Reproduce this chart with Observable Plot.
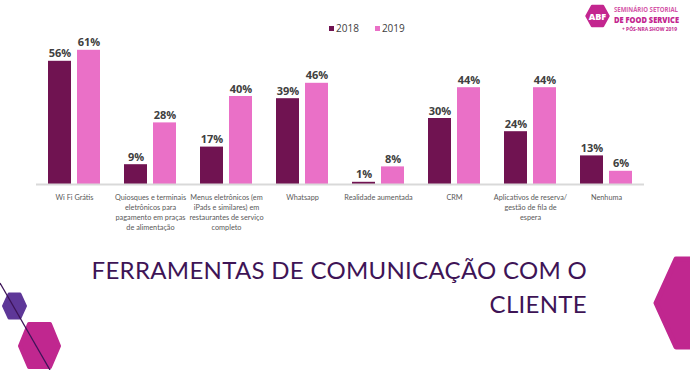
<!DOCTYPE html>
<html>
<head>
<meta charset="utf-8">
<script src="https://cdn.jsdelivr.net/npm/d3@7"></script>
<script src="https://cdn.jsdelivr.net/npm/@observablehq/plot@0.6"></script>
<style>
  html, body { margin: 0; padding: 0; background: #ffffff; }
  #page { position: relative; width: 690px; height: 370px; overflow: hidden; font-family: "Open Sans", sans-serif; }
  #chart { position: absolute; left: 0; top: 0; }
  #legend { position: absolute; left: 329px; top: 21px; display: flex; gap: 16px; font-family: "Open Sans", sans-serif; font-size: 10px; color: #404040; }
  #legend span.item { display: flex; align-items: center; gap: 1px; }
  #legend span.sw { display: inline-block; width: 5px; height: 5px; margin-right: 1px; }
  #title { position: absolute; right: 103px; top: 253px; text-align: right; font-family: "Lato", sans-serif; font-weight: 400; font-size: 24px; line-height: 34px; letter-spacing: 0.3px; color: #3E1456; white-space: nowrap; }
  #deco { position: absolute; left: 0; top: 0; pointer-events: none; }
</style>
</head>
<body>
<div id="page">
  <div id="chart"></div>
  <div id="legend"></div>
  <div id="title">FERRAMENTAS DE COMUNICAÇÃO COM O<br>CLIENTE</div>
  <svg id="deco" width="690" height="370" viewBox="0 0 690 370">
    <!-- bottom-left decoration -->
    <polygon points="9,294 20,294 25.5,306 20,318 9,318 3.5,306" fill="#5E3798" stroke="#5E3798" stroke-width="3" stroke-linejoin="round"/>
    <polygon points="29,324 50,324 59,346 50,367 29,367 20,346" fill="#C0278F" stroke="#C0278F" stroke-width="4" stroke-linejoin="round"/>
    <line x1="0" y1="283" x2="50" y2="370" stroke="#3D1458" stroke-width="1.3"/>
    <!-- right decoration -->
    <polygon points="676,259 700,259 720,303 700,347 676,347 656,303" fill="#C0278F" stroke="#C0278F" stroke-width="5" stroke-linejoin="round"/>
    <!-- logo -->
    <polygon points="592,6 603,6 608.5,16 603,26 592,26 586.5,16" fill="#C3268F" stroke="#C3268F" stroke-width="2.5" stroke-linejoin="round"/>
    <text x="597.5" y="19.5" text-anchor="middle" font-family="Open Sans, sans-serif" font-weight="800" font-size="9" fill="#ffffff">ABF</text>
    <text x="614" y="12" font-family="Open Sans, sans-serif" font-weight="700" font-size="6.2" fill="#D457A8" textLength="64" lengthAdjust="spacingAndGlyphs">SEMINÁRIO SETORIAL</text>
    <text x="614" y="22.5" font-family="Open Sans, sans-serif" font-weight="800" font-size="7.8" fill="#C3268F" textLength="65" lengthAdjust="spacingAndGlyphs">DE FOOD SERVICE</text>
    <text x="622" y="30.5" font-family="Open Sans, sans-serif" font-weight="700" font-size="4.6" fill="#C3268F" textLength="55" lengthAdjust="spacingAndGlyphs">+ PÓS-NRA SHOW 2019</text>
  </svg>
</div>
<script>
const categories = [
  "Wi Fi Grátis",
  "Quiosques e terminais\neletrônicos para\npagamento em praças\nde alimentação",
  "Menus eletrônicos (em\niPads e similares) em\nrestaurantes de serviço\ncompleto",
  "Whatsapp",
  "Realidade aumentada",
  "CRM",
  "Aplicativos de reserva/\ngestão de fila de\nespera",
  "Nenhuma"
];
const years = ["2018", "2019"];
const values2018 = [56, 9, 17, 39, 1, 30, 24, 13];
const values2019 = [61, 28, 40, 46, 8, 44, 44, 6];
const colors = ["#701351", "#EA70C7"];

const data = [];
categories.forEach((c, i) => {
  data.push({category: c, year: years[0], value: values2018[i]});
  data.push({category: c, year: years[1], value: values2019[i]});
});

const chart = Plot.plot({
  width: 690,
  height: 370,
  marginLeft: 33,
  marginRight: 44,
  marginTop: 30,
  marginBottom: 186,
  style: {background: "transparent", overflow: "visible"},
  fx: {domain: categories, padding: 0, axis: null, label: null},
  x: {domain: years, paddingInner: 0.2, paddingOuter: 0.4, axis: null, label: null},
  y: {domain: [0, 70], axis: null, label: null},
  color: {domain: years, range: colors},
  marks: [
    Plot.barY(data, {fx: "category", x: "year", y: "value", fill: "year"}),
    Plot.ruleY([0], {stroke: "#D9D9D9", strokeWidth: 2}),
    Plot.text(data, {
      fx: "category", x: "year", y: "value",
      text: d => d.value + "%",
      lineAnchor: "bottom", dy: -4,
      fontFamily: "Open Sans", fontWeight: "bold", fontSize: 11, fill: "#404040"
    }),
    Plot.text(categories, {
      fx: d => d, text: d => d,
      frameAnchor: "bottom", lineAnchor: "top", dy: 8,
      fontFamily: "Lato", fontSize: 7.3, lineHeight: 1.37, fill: "#595959"
    })
  ]
});
document.getElementById("chart").appendChild(chart);

const legend = document.getElementById("legend");
years.forEach((y, i) => {
  const item = document.createElement("span");
  item.className = "item";
  const sw = document.createElement("span");
  sw.className = "sw";
  sw.style.background = colors[i];
  item.appendChild(sw);
  item.appendChild(document.createTextNode(y));
  legend.appendChild(item);
});
</script>
</body>
</html>
